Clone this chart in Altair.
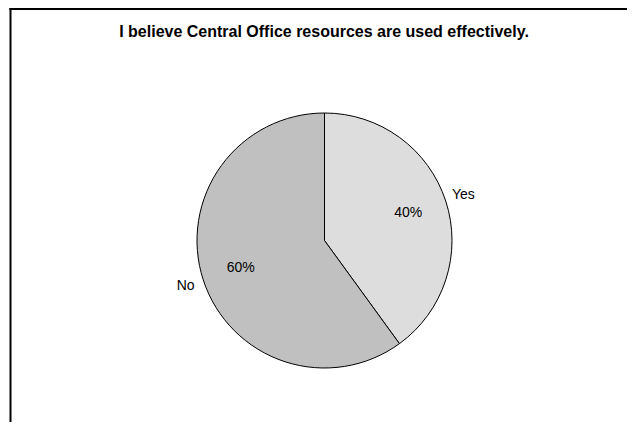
import altair as alt
import pandas as pd

categories = ["Yes", "No"]
percents = [40, 60]
colors = ["#DDDDDD", "#C0C0C0"]
title_text = "I believe Central Office resources are used effectively."

df = pd.DataFrame({"answer": categories, "pct": percents, "order": list(range(len(categories)))})
df["label"] = df["pct"].astype(str) + "%"

W, H = 619, 414
cx, cy, R = 316.5, 232.5, 127.5
FONT = "Liberation Sans"

base = alt.Chart(df).encode(
    theta=alt.Theta("pct:Q", stack=True),
    order=alt.Order("order:Q"),
)

pie = base.mark_arc(outerRadius=R, stroke="black", strokeWidth=1).encode(
    x=alt.value(cx),
    y=alt.value(cy),
    color=alt.Color("answer:N", scale=alt.Scale(domain=categories, range=colors), legend=None),
)

pct_text = base.mark_text(radius=88, fontSize=14, font=FONT, color="black").encode(
    x=alt.value(cx), y=alt.value(cy), text="label:N"
)

cat_text = base.mark_text(radius=146, fontSize=14, font=FONT, color="black").encode(
    x=alt.value(cx), y=alt.value(cy), text="answer:N"
)

one = pd.DataFrame({"a": [0]})
title = alt.Chart(one).mark_text(
    text=title_text, fontSize=16, fontWeight="bold", font=FONT, color="black"
).encode(x=alt.value(316), y=alt.value(23.5))

left_border = alt.Chart(one).mark_rule(color="black", strokeWidth=2).encode(
    x=alt.value(2.5), y=alt.value(0), y2=alt.value(H)
)
top_border = alt.Chart(one).mark_rule(color="black", strokeWidth=2).encode(
    x=alt.value(1.5), x2=alt.value(W), y=alt.value(1)
)

chart = alt.layer(pie, pct_text, cat_text, title, left_border, top_border).properties(
    width=W, height=H, autosize=alt.AutoSizeParams(type="none"), padding=0
).configure_view(stroke=None)

chart.save("out.html", embed_options={"renderer": "svg", "actions": False})
